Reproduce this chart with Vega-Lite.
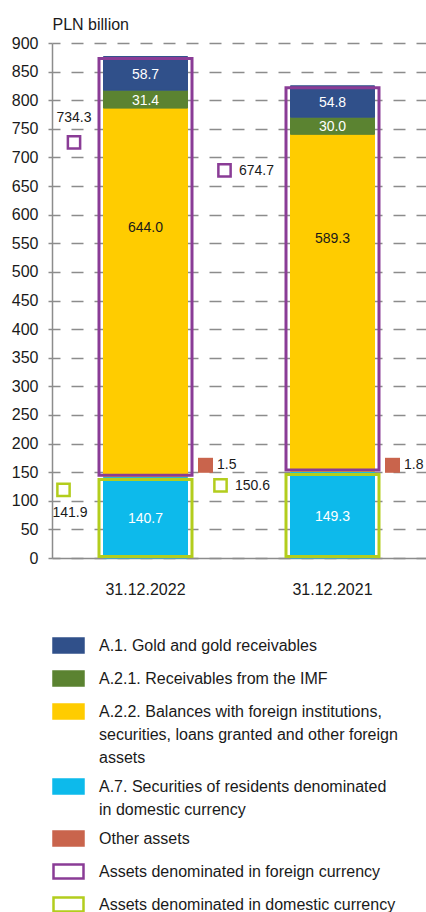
{
  "$schema": "https://vega.github.io/schema/vega-lite/v6.json",
  "width": 374,
  "height": 515,
  "autosize": {"type": "none"},
  "padding": {"left": 52, "top": 43, "right": 0, "bottom": 354},
  "background": "white",
  "config": {
    "font": "Liberation Sans",
    "view": {"stroke": null},
    "axis": {"labelFont": "Liberation Sans", "labelFontSize": 16, "labelColor": "#1a1a1a", "titleFont": "Liberation Sans"},
    "legend": {"labelFont": "Liberation Sans", "labelFontSize": 16, "labelColor": "#1a1a1a"},
    "text": {"font": "Liberation Sans"},
    "style": {"guide-label": {"lineHeight": 23}}
  },
  "datasets": {
    "segments": [
      {"date": "31.12.2022", "series": "A.7. Securities of residents denominated in domestic currency", "value": 140.7, "k": 1, "box": "Assets denominated in domestic currency"},
      {"date": "31.12.2022", "series": "Other assets", "value": 1.5, "k": 2, "box": "none"},
      {"date": "31.12.2022", "series": "A.2.2. Balances with foreign institutions, securities, loans granted and other foreign assets", "value": 644.0, "k": 3, "box": "Assets denominated in foreign currency"},
      {"date": "31.12.2022", "series": "A.2.1. Receivables from the IMF", "value": 31.4, "k": 4, "box": "Assets denominated in foreign currency"},
      {"date": "31.12.2022", "series": "A.1. Gold and gold receivables", "value": 58.7, "k": 5, "box": "Assets denominated in foreign currency"},
      {"date": "31.12.2021", "series": "A.7. Securities of residents denominated in domestic currency", "value": 149.3, "k": 1, "box": "Assets denominated in domestic currency"},
      {"date": "31.12.2021", "series": "Other assets", "value": 1.8, "k": 2, "box": "none"},
      {"date": "31.12.2021", "series": "A.2.2. Balances with foreign institutions, securities, loans granted and other foreign assets", "value": 589.3, "k": 3, "box": "Assets denominated in foreign currency"},
      {"date": "31.12.2021", "series": "A.2.1. Receivables from the IMF", "value": 30.0, "k": 4, "box": "Assets denominated in foreign currency"},
      {"date": "31.12.2021", "series": "A.1. Gold and gold receivables", "value": 54.8, "k": 5, "box": "Assets denominated in foreign currency"}
    ],
    "totals": [
      {"date": "31.12.2022", "kind": "foreign", "value": 734.3},
      {"date": "31.12.2022", "kind": "domestic", "value": 141.9},
      {"date": "31.12.2022", "kind": "other", "value": 1.5},
      {"date": "31.12.2021", "kind": "foreign", "value": 674.7},
      {"date": "31.12.2021", "kind": "domestic", "value": 150.6},
      {"date": "31.12.2021", "kind": "other", "value": 1.8}
    ]
  },
  "data": {"name": "segments"},
  "transform": [
    {"window": [{"op": "sum", "field": "value", "as": "top"}], "groupby": ["date"], "sort": [{"field": "k", "order": "ascending"}], "frame": [null, 0]},
    {"calculate": "datum.top - datum.value", "as": "bottom"},
    {"calculate": "(datum.top + datum.bottom) / 2", "as": "mid"}
  ],
  "layer": [
    {
      "transform": [{"filter": "datum.series != 'Other assets'"}],
      "mark": {"type": "bar", "width": 84, "opacity": 1},
      "encoding": {
        "x": {
          "field": "date", "type": "nominal", "sort": ["31.12.2022", "31.12.2021"],
          "scale": {"paddingInner": 0, "paddingOuter": 0},
          "axis": {"title": null, "labelAngle": 0, "ticks": false, "domainColor": "#8c8c8c", "domainWidth": 1.5, "labelPadding": 23, "labelFontSize": 16, "grid": false}
        },
        "y": {
          "field": "top", "type": "quantitative",
          "scale": {"domain": [0, 900], "nice": false, "zero": true},
          "axis": {
            "values": [0, 50, 100, 150, 200, 250, 300, 350, 400, 450, 500, 550, 600, 650, 700, 750, 800, 850, 900],
            "tickCount": 25, "labelOverlap": false,
            "title": "PLN billion", "titleAngle": 0, "titleAlign": "left", "titleBaseline": "alphabetic",
            "titleX": 0, "titleY": -14, "titleFontSize": 16, "titleFontWeight": "normal", "titleColor": "#1a1a1a",
            "labelPadding": 10, "tickSize": 4, "tickColor": "#8c8c8c", "tickWidth": 1.5,
            "domainColor": "#8c8c8c", "domainWidth": 1.5,
            "grid": true, "gridColor": "#8c8c8c", "gridWidth": 1.5, "gridDash": [12, 11], "gridDashOffset": 4
          }
        },
        "y2": {"field": "bottom"},
        "fill": {
          "field": "series", "type": "nominal",
          "scale": {
            "domain": ["A.1. Gold and gold receivables", "A.2.1. Receivables from the IMF", "A.2.2. Balances with foreign institutions, securities, loans granted and other foreign assets", "A.7. Securities of residents denominated in domestic currency", "Other assets", "Assets denominated in foreign currency", "Assets denominated in domestic currency"],
            "range": ["#30508A", "#5B8331", "#FFCC00", "#0DBAEB", "#C9644C", "transparent", "transparent"]
          },
          "legend": {
            "orient": "none", "legendX": 0, "legendY": 586, "direction": "vertical", "columns": 1, "title": null, "padding": 0,
            "symbolType": "M-1,-0.4667H1V0.4667H-1Z", "symbolSize": 900, "symbolStrokeWidth": 2.5,
            "labelFontSize": 16, "labelLimit": 400, "labelOffset": 14, "rowPadding": 4, "labelBaseline": "middle",
            "labelExpr": "datum.value == 'A.2.2. Balances with foreign institutions, securities, loans granted and other foreign assets' ? ['A.2.2. Balances with foreign institutions,', 'securities, loans granted and other foreign', 'assets'] : datum.value == 'A.7. Securities of residents denominated in domestic currency' ? ['A.7. Securities of residents denominated', 'in domestic currency'] : datum.label"
          }
        },
        "stroke": {
          "field": "series", "type": "nominal",
          "scale": {
            "domain": ["A.1. Gold and gold receivables", "A.2.1. Receivables from the IMF", "A.2.2. Balances with foreign institutions, securities, loans granted and other foreign assets", "A.7. Securities of residents denominated in domestic currency", "Other assets", "Assets denominated in foreign currency", "Assets denominated in domestic currency"],
            "range": ["#30508A", "#5B8331", "#FFCC00", "#0DBAEB", "#C9644C", "#8A3C96", "#B3CD1D"]
          },
          "legend": {
            "orient": "none", "legendX": 0, "legendY": 586, "direction": "vertical", "columns": 1, "title": null, "padding": 0,
            "symbolType": "M-1,-0.4667H1V0.4667H-1Z", "symbolSize": 900, "symbolStrokeWidth": 2.5,
            "labelFontSize": 16, "labelLimit": 400, "labelOffset": 14, "rowPadding": 4, "labelBaseline": "middle",
            "labelExpr": "datum.value == 'A.2.2. Balances with foreign institutions, securities, loans granted and other foreign assets' ? ['A.2.2. Balances with foreign institutions,', 'securities, loans granted and other foreign', 'assets'] : datum.value == 'A.7. Securities of residents denominated in domestic currency' ? ['A.7. Securities of residents denominated', 'in domestic currency'] : datum.label"
          }
        }
      }
    },
    {
      "transform": [
        {"aggregate": [{"op": "min", "field": "bottom", "as": "lo"}, {"op": "max", "field": "top", "as": "hi"}], "groupby": ["date", "box"]},
        {"filter": "datum.box != 'none'"},
        {"calculate": "datum.box", "as": "series"}
      ],
      "mark": {"type": "bar", "width": 93, "strokeWidth": 3, "yOffset": 2, "y2Offset": -1.5, "opacity": 1},
      "encoding": {
        "x": {"field": "date", "type": "nominal", "sort": ["31.12.2022", "31.12.2021"]},
        "y": {"field": "hi", "type": "quantitative"},
        "y2": {"field": "lo"},
        "fill": {"field": "series", "type": "nominal"},
        "stroke": {"field": "series", "type": "nominal"}
      }
    },
    {
      "transform": [{"filter": "datum.series != 'Other assets' && datum.k != 3"}],
      "mark": {"type": "text", "color": "white", "fontSize": 14, "baseline": "middle", "align": "center", "yOffset": 1.5},
      "encoding": {
        "x": {"field": "date", "type": "nominal", "sort": ["31.12.2022", "31.12.2021"]},
        "y": {"field": "mid", "type": "quantitative"},
        "text": {"field": "value", "type": "quantitative", "format": ".1f"}
      }
    },
    {
      "transform": [{"filter": "datum.k == 3"}],
      "mark": {"type": "text", "color": "#1a1a1a", "fontSize": 14, "baseline": "middle", "align": "center", "yOffset": -64},
      "encoding": {
        "x": {"field": "date", "type": "nominal", "sort": ["31.12.2022", "31.12.2021"]},
        "y": {"field": "mid", "type": "quantitative"},
        "text": {"field": "value", "type": "quantitative", "format": ".1f"}
      }
    },
    {
      "data": {"name": "totals"},
      "transform": [{"filter": "datum.date == '31.12.2022' && datum.kind == 'foreign'"}],
      "layer": [
        {
          "mark": {"type": "point", "shape": "square", "filled": false, "stroke": "#8A3C96", "strokeWidth": 2.5, "size": 150, "opacity": 1, "xOffset": -71.5, "yOffset": 4.5},
          "encoding": {
            "x": {"field": "date", "type": "nominal", "sort": ["31.12.2022", "31.12.2021"]},
            "y": {"field": "value", "type": "quantitative"}
          }
        },
        {
          "mark": {"type": "text", "fontSize": 14, "color": "#1a1a1a", "align": "center", "baseline": "middle", "xOffset": -71.5, "yOffset": -20},
          "encoding": {
            "x": {"field": "date", "type": "nominal", "sort": ["31.12.2022", "31.12.2021"]},
            "y": {"field": "value", "type": "quantitative"},
            "text": {"field": "value", "type": "quantitative", "format": ".1f"}
          }
        }
      ]
    },
    {
      "data": {"name": "totals"},
      "transform": [{"filter": "datum.date == '31.12.2021' && datum.kind == 'foreign'"}],
      "layer": [
        {
          "mark": {"type": "point", "shape": "square", "filled": false, "stroke": "#8A3C96", "strokeWidth": 2.5, "size": 150, "opacity": 1, "xOffset": -108, "yOffset": -1.5},
          "encoding": {
            "x": {"field": "date", "type": "nominal", "sort": ["31.12.2022", "31.12.2021"]},
            "y": {"field": "value", "type": "quantitative"}
          }
        },
        {
          "mark": {"type": "text", "fontSize": 14, "color": "#1a1a1a", "align": "left", "baseline": "middle", "xOffset": -93.5, "yOffset": -1},
          "encoding": {
            "x": {"field": "date", "type": "nominal", "sort": ["31.12.2022", "31.12.2021"]},
            "y": {"field": "value", "type": "quantitative"},
            "text": {"field": "value", "type": "quantitative", "format": ".1f"}
          }
        }
      ]
    },
    {
      "data": {"name": "totals"},
      "transform": [{"filter": "datum.date == '31.12.2022' && datum.kind == 'domestic'"}],
      "layer": [
        {
          "mark": {"type": "point", "shape": "square", "filled": false, "stroke": "#B3CD1D", "strokeWidth": 2.5, "size": 150, "opacity": 1, "xOffset": -82, "yOffset": 13},
          "encoding": {
            "x": {"field": "date", "type": "nominal", "sort": ["31.12.2022", "31.12.2021"]},
            "y": {"field": "value", "type": "quantitative"}
          }
        },
        {
          "mark": {"type": "text", "fontSize": 14, "color": "#1a1a1a", "align": "center", "baseline": "middle", "xOffset": -75.5, "yOffset": 36},
          "encoding": {
            "x": {"field": "date", "type": "nominal", "sort": ["31.12.2022", "31.12.2021"]},
            "y": {"field": "value", "type": "quantitative"},
            "text": {"field": "value", "type": "quantitative", "format": ".1f"}
          }
        }
      ]
    },
    {
      "data": {"name": "totals"},
      "transform": [{"filter": "datum.date == '31.12.2021' && datum.kind == 'domestic'"}],
      "layer": [
        {
          "mark": {"type": "point", "shape": "square", "filled": false, "stroke": "#B3CD1D", "strokeWidth": 2.5, "size": 150, "opacity": 1, "xOffset": -112, "yOffset": 13.6},
          "encoding": {
            "x": {"field": "date", "type": "nominal", "sort": ["31.12.2022", "31.12.2021"]},
            "y": {"field": "value", "type": "quantitative"}
          }
        },
        {
          "mark": {"type": "text", "fontSize": 14, "color": "#1a1a1a", "align": "left", "baseline": "middle", "xOffset": -97.5, "yOffset": 14},
          "encoding": {
            "x": {"field": "date", "type": "nominal", "sort": ["31.12.2022", "31.12.2021"]},
            "y": {"field": "value", "type": "quantitative"},
            "text": {"field": "value", "type": "quantitative", "format": ".1f"}
          }
        }
      ]
    },
    {
      "data": {"name": "totals"},
      "transform": [{"filter": "datum.kind == 'other'"}],
      "layer": [
        {
          "mark": {"type": "square", "color": "#C9644C", "size": 225, "opacity": 1, "xOffset": 60},
          "encoding": {
            "x": {"field": "date", "type": "nominal", "sort": ["31.12.2022", "31.12.2021"]},
            "y": {"datum": 162, "type": "quantitative"}
          }
        },
        {
          "mark": {"type": "text", "fontSize": 14, "color": "#1a1a1a", "align": "left", "baseline": "middle", "xOffset": 71.5},
          "encoding": {
            "x": {"field": "date", "type": "nominal", "sort": ["31.12.2022", "31.12.2021"]},
            "y": {"datum": 162, "type": "quantitative"},
            "text": {"field": "value", "type": "quantitative", "format": ".1f"}
          }
        }
      ]
    }
  ]
}
